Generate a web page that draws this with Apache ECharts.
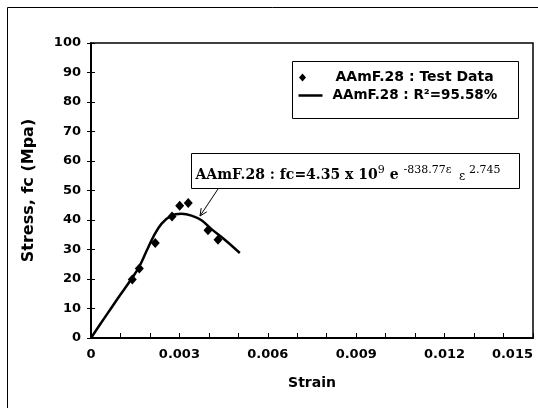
<!DOCTYPE html>
<html>
<head>
<meta charset="utf-8">
<title>AAmF.28 stress-strain</title>
<script src="https://cdn.jsdelivr.net/npm/echarts@6/dist/echarts.min.js"></script>
<style>
  html, body { margin: 0; padding: 0; background: #fff; }
  #chart { width: 538px; height: 408px; }
</style>
</head>
<body>
<div id="chart"></div>
<script>
// test points
const testStrain = [0.0014, 0.00164, 0.00218, 0.00275, 0.00301, 0.0033, 0.00397, 0.00431];
const testStress = [19.8, 23.6, 32.2, 41.2, 44.8, 45.8, 36.5, 33.3];

// fitted curve
const fitStrain = [0, 0.00047, 0.00093, 0.0014, 0.00165, 0.0019, 0.00211, 0.00239, 0.00273, 0.00307, 0.00341, 0.00375, 0.00409, 0.00454, 0.00505];
const fitStress = [0, 7.0, 13.7, 20.4, 24.4, 29.8, 34.2, 38.7, 41.5, 42.1, 41.5, 39.9, 36.9, 33.3, 28.8];

const xTicks = [0, 0.003, 0.006, 0.009, 0.012, 0.015];
const yTicks = [0, 10, 20, 30, 40, 50, 60, 70, 80, 90, 100];

const testName = 'AAmF.28 : Test Data';
const fitName = 'AAmF.28 : R\u00b2=95.58%';

const sans = 'DejaVu Sans';
const serif = 'DejaVu Serif';

const zip = (xs, ys) => xs.map((x, i) => [x, ys[i]]);

const chart = echarts.init(document.getElementById('chart'), null, { renderer: 'canvas' });

const labelStyle = { color: '#000', fontFamily: sans, fontWeight: 'bold', fontSize: 13 };

const option = {
  animation: false,
  backgroundColor: '#fff',
  textStyle: { fontFamily: sans, color: '#000' },
  grid: {
    left: 91, right: 5, top: 43, bottom: 70,
    show: true, borderColor: '#000', borderWidth: 1.5
  },
  xAxis: {
    type: 'value',
    min: xTicks[0],
    max: xTicks[xTicks.length - 1],
    interval: xTicks[1] - xTicks[0],
    name: 'Strain',
    nameLocation: 'middle',
    nameGap: 38,
    nameTextStyle: { color: '#000', fontFamily: sans, fontWeight: 'bold', fontSize: 14 },
    axisLine: { lineStyle: { color: '#000', width: 2 } },
    axisTick: { inside: true, length: 5, lineStyle: { color: '#000' } },
    minorTick: { show: true, splitNumber: 3, length: 5, lineStyle: { color: '#000' } },
    axisLabel: Object.assign({ margin: 10, alignMaxLabel: 'right' }, labelStyle),
    splitLine: { show: false }
  },
  yAxis: [
    {
      type: 'value',
      min: yTicks[0],
      max: yTicks[yTicks.length - 1],
      interval: yTicks[1] - yTicks[0],
      name: 'Stress, fc (Mpa)',
      nameLocation: 'middle',
      nameGap: 54,
      nameTextStyle: { color: '#000', fontFamily: sans, fontWeight: 'bold', fontSize: 16 },
      axisLine: { lineStyle: { color: '#000', width: 2 } },
      axisTick: { length: 4, lineStyle: { color: '#000' } },
      axisLabel: Object.assign({ margin: 10 }, labelStyle),
      splitLine: { show: false }
    },
    {
      // inner half of the crossing ticks
      type: 'value',
      position: 'left',
      min: yTicks[0],
      max: yTicks[yTicks.length - 1],
      interval: yTicks[1] - yTicks[0],
      axisLine: { show: false },
      axisTick: { inside: true, length: 4, lineStyle: { color: '#000' } },
      axisLabel: { show: false },
      splitLine: { show: false }
    }
  ],
  series: [
    {
      name: fitName,
      type: 'line',
      data: zip(fitStrain, fitStress),
      smooth: 0.4,
      symbol: 'none',
      lineStyle: { color: '#000', width: 2.5 },
      z: 2
    },
    {
      name: testName,
      type: 'scatter',
      data: zip(testStrain, testStress),
      symbol: 'diamond',
      symbolSize: [9, 10],
      itemStyle: { color: '#000', opacity: 1 },
      z: 3
    }
  ],
  graphic: [
    // outer frame (left and top edges)
    {
      type: 'polyline',
      shape: { points: [[7.5, 408], [7.5, 7.5], [538, 7.5]] },
      style: { stroke: '#000', lineWidth: 1, fill: null }
    },
    // legend box
    {
      type: 'group',
      left: 292, top: 61,
      children: [
        { type: 'rect', shape: { x: 0, y: 0, width: 226, height: 57 },
          style: { fill: '#fff', stroke: '#000', lineWidth: 1 } },
        { type: 'polygon', shape: { points: [[10, 12], [13.5, 16], [10, 20], [6.5, 16]] },
          style: { fill: '#000' } },
        { type: 'line', shape: { x1: 6, y1: 34, x2: 30, y2: 34 },
          style: { stroke: '#000', lineWidth: 2.5 } },
        { type: 'text', x: 43, y: 16,
          style: { text: testName, font: 'bold 14px "DejaVu Sans"', fill: '#000', verticalAlign: 'middle' } },
        { type: 'text', x: 40, y: 34,
          style: { text: fitName, font: 'bold 13.5px "DejaVu Sans"', fill: '#000', verticalAlign: 'middle' } }
      ]
    },
    // equation box
    {
      type: 'group',
      left: 191, top: 153,
      children: [
        { type: 'rect', shape: { x: 0, y: 0, width: 328, height: 35 },
          style: { fill: '#fff', stroke: '#000', lineWidth: 1 } },
        {
          type: 'text', x: 4, y: 11,
          style: {
            text: '{m|AAmF.28 : fc=4.35 x 10}{s|9}{m| e }{s|-838.77\u03b5}{e|  \u03b5 }{s|2.745}',
            fill: '#000',
            rich: {
              m: { fontFamily: serif, fontWeight: 'bold', fontSize: 14, lineHeight: 18, verticalAlign: 'bottom', color: '#000' },
              s: { fontFamily: serif, fontSize: 11, lineHeight: 14, verticalAlign: 'top', color: '#000' },
              e: { fontFamily: serif, fontSize: 12, lineHeight: 4, verticalAlign: 'bottom', color: '#000' }
            }
          }
        }
      ]
    },
    // arrow from the equation to the curve
    {
      type: 'line',
      shape: { x1: 218, y1: 189, x2: 200, y2: 216 },
      style: { stroke: '#000', lineWidth: 1 }
    },
    {
      type: 'polyline',
      shape: { points: [[206.8, 211.8], [200, 216], [201.2, 208.1]] },
      style: { stroke: '#000', lineWidth: 1, fill: null }
    }
  ]
};

chart.setOption(option);
</script>
</body>
</html>
